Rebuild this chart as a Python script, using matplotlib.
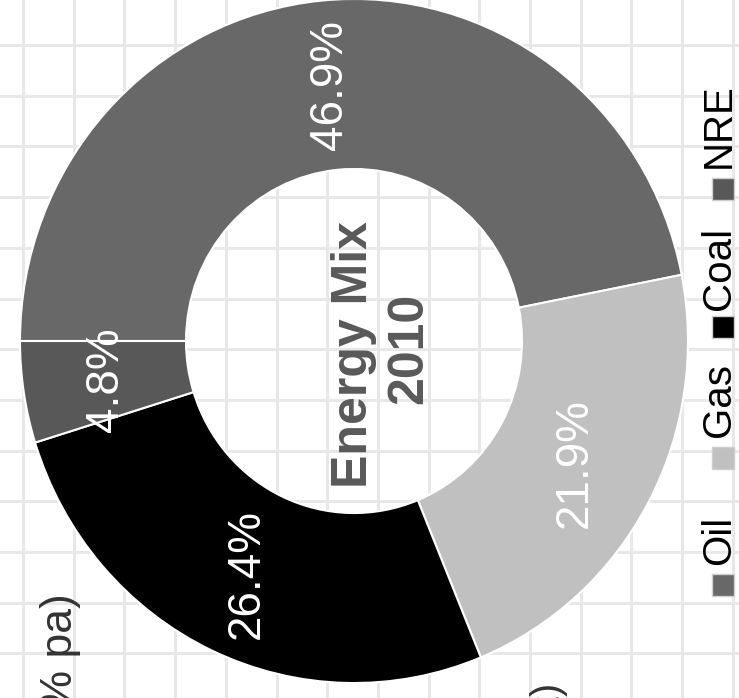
import matplotlib
matplotlib.use('Agg')
import matplotlib.pyplot as plt
from matplotlib.patches import Rectangle

# ---- data ----
categories = ['Oil', 'Gas', 'Coal', 'NRE']
shares = [46.9, 21.9, 26.4, 4.8]
colors = ['#686868', '#c0c0c0', '#000000', '#585858']
title_lines = ['Energy Mix', '2010']
side_text_left = '(1.9% pa)'
side_text_bottom = '(Mt)'

W, H = 739, 698
S = 1.024  # slight vertical stretch of the reference
narrow = ['Liberation Sans Narrow', 'Liberation Sans', 'DejaVu Sans']
regular = ['Liberation Sans', 'DejaVu Sans']


def Y(img_y):
    """image-pixel y (from top) -> data y"""
    return (H - img_y) / S


fig = plt.figure(figsize=(W / 100, H / 100), dpi=100)
ax = fig.add_axes([0, 0, 1, 1])

# background grid (image-pixel layout)
step = 50.7
gx = 23.0
while gx < W:
    ax.axvline(gx, color='#e8e8e8', lw=2.2, zorder=0)
    gx += step
gy = 45.0
while gy < H:
    ax.axhline(Y(gy), color='#e8e8e8', lw=2.2, zorder=0)
    gy += step

# donut (rotated 90deg: starts at 9 o'clock, clockwise)
cx, cy = 354, Y(341)
r_out, r_in = 334, 168
wedges, texts, autotexts = ax.pie(
    shares, colors=colors, center=(cx, cy), radius=r_out,
    startangle=180, counterclock=False,
    wedgeprops=dict(width=r_out - r_in, edgecolor='white', linewidth=1.5),
    autopct='%.1f%%', pctdistance=(r_out + r_in) / 2 / r_out,
    textprops=dict(color='white', fontsize=33, family=narrow))
for w in wedges:
    w.set_zorder(2)
for t in autotexts:
    t.set_rotation(90)
    t.set_zorder(3)

# centre title
ax.text(367, Y(355), title_lines[0], rotation=90, rotation_mode='anchor',
        ha='center', va='baseline', fontsize=36, fontweight='bold',
        color='#595959', family=regular, zorder=4)
ax.text(422, Y(348), title_lines[1], rotation=90, rotation_mode='anchor',
        ha='center', va='baseline', fontsize=36, fontweight='bold',
        color='#595959', family=regular, zorder=4)

# legend (rotated, drawn manually)
marker_y = [585, 458, 327, 189]
text_start_y = [565, 437, 310, 168]
msize = 22
for cat, col, my, ty in zip(categories, colors, marker_y, text_start_y):
    ax.add_patch(Rectangle((712, Y(my + msize / 2)), msize, msize / S,
                           facecolor=col, edgecolor='#cfcfcf', lw=1, zorder=5))
    ax.text(730, Y(ty), cat, rotation=90, rotation_mode='anchor',
            ha='left', va='baseline', fontsize=29, color='black',
            family=narrow, zorder=5)

# partial texts from neighbouring content
ax.text(72, Y(593), side_text_left, rotation=90, rotation_mode='anchor',
        ha='right', va='baseline', fontsize=32, color='#333333',
        family=regular, zorder=1)
ax.text(558, Y(680), side_text_bottom, rotation=90, rotation_mode='anchor',
        ha='right', va='baseline', fontsize=29, color='#333333',
        family=regular, zorder=1)

ax.set_xlim(0, W)
ax.set_ylim(0, H / S)
ax.set_aspect('auto')
ax.axis('off')
fig.savefig('out.png', dpi=100)
